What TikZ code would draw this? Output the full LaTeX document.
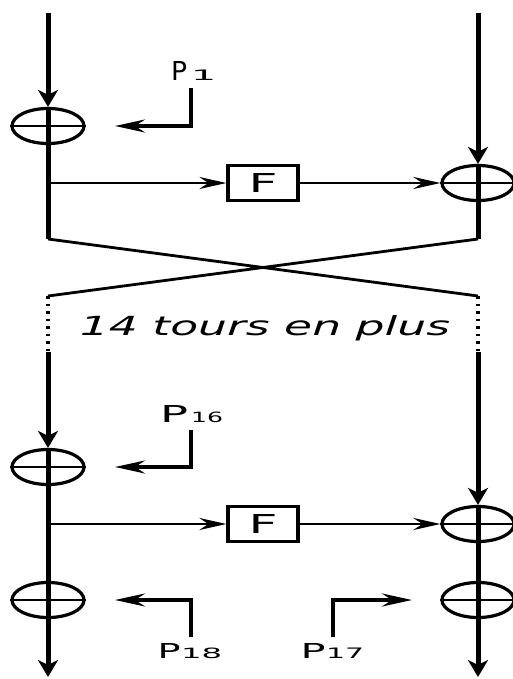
\documentclass[tikz,border=0pt]{standalone}
\usepackage{fontspec}
\setmainfont{DejaVu Sans}
\usepackage{graphicx}
\usetikzlibrary{arrows.meta,shapes.geometric}
\newcommand{\keylab}[5]{\resizebox{#1pt}{#2pt}{P}\hspace{#3pt}\resizebox{#4pt}{10.5pt}{#5}}

\begin{document}
\begin{tikzpicture}[x=1pt,y=-1pt,
  rail/.style={line width=5pt},
  down/.style={rail,-{Stealth[length=17pt,width=20pt,inset=5pt]}},
  xor/.style={draw,ellipse,line width=3.2pt,minimum width=72pt,minimum height=35pt,inner sep=0pt},
  bar/.style={line width=2.6pt},
  fbox/.style={draw,line width=3.2pt,minimum width=70pt,minimum height=35pt,inner sep=0pt},
  feed/.style={line width=2.5pt,-{Stealth[length=27pt,width=12pt,inset=9pt]}},
  cross/.style={line width=2.8pt},
  gap/.style={line width=3.8pt,dash pattern=on 2.7pt off 4.8pt},
  key/.style={line width=3.5pt,-{Stealth[length=30pt,width=13pt,inset=10pt]}},
  keylabel/.style={anchor=base west,inner sep=0pt}
]
  \useasboundingbox (0,0) rectangle (513,679);

  \coordinate (t1) at (48,13);
  \coordinate (t2) at (478,13);
  \node[xor] (x1) at (48,126) {};
  \node[xor] (x2) at (478,183) {};
  \node[fbox] (f1) at (263,183) {\resizebox{29pt}{19pt}{F}};
  \coordinate (s1) at (48,183);
  \coordinate (c1) at (48,239);
  \coordinate (c2) at (478,239);
  \coordinate (d1) at (48,296);
  \coordinate (d2) at (478,296);
  \coordinate (e1) at (48,352);
  \coordinate (e2) at (478,352);

  \node[xor] (x3) at (48,467) {};
  \node[xor] (x4) at (478,524) {};
  \node[fbox] (f2) at (263,524) {\resizebox{29pt}{19pt}{F}};
  \coordinate (s2) at (48,524);
  \node[xor] (x5) at (48,600) {};
  \node[xor] (x6) at (478,600) {};
  \coordinate (b1) at (48,677);
  \coordinate (b2) at (478,677);

  \draw[down] (t1) -- (x1);
  \draw[rail] (x1.north) -- (c1);
  \draw[down] (t2) -- (x2);
  \draw[rail] (x2.north) -- (c2);
  \draw[feed] (s1) -- (f1);
  \draw[feed] (f1) -- (x2);
  \draw[cross] (c1) -- (d2) (c2) -- (d1);
  \draw[gap] (d1) -- (e1) (d2) -- (e2);

  \node[anchor=base,inner sep=0pt] (more) at (265,335)
    {\resizebox{370pt}{20pt}{\itshape 14 tours en plus}};

  \draw[down] (e1) -- (x3);
  \draw[rail] (x3.north) -- (x5.north);
  \draw[down] (x5.north) -- (b1);
  \draw[down] (e2) -- (x4);
  \draw[rail] (x4.north) -- (x6.north);
  \draw[down] (x6.north) -- (b2);
  \draw[feed] (s2) -- (f2);
  \draw[feed] (f2) -- (x4);

  \foreach \x in {x1,x2,x3,x4,x5,x6}
    \draw[bar] (\x.west) -- (\x.east);

  \node[keylabel] (p1) at (171,81) {\keylab{16}{19}{4}{25}{1}};
  \node[keylabel] (p16) at (160,422) {\keylab{28}{17}{3}{32}{16}};
  \node[keylabel] (p18) at (157.5,658) {\keylab{23}{15}{0.5}{41}{18}};
  \node[keylabel] (p17) at (300.5,658) {\keylab{25}{15}{0.5}{38}{17}};

  \coordinate (k1) at (191,88);
  \coordinate (h1) at (115,126);
  \coordinate (k16) at (191,430);
  \coordinate (h16) at (115,467);
  \coordinate (k18) at (191,637);
  \coordinate (h18) at (115,600);
  \coordinate (k17) at (333,637);
  \coordinate (h17) at (412,600);
  \draw[key] (k1) |- (h1);
  \draw[key] (k16) |- (h16);
  \draw[key] (k18) |- (h18);
  \draw[key] (k17) |- (h17);
\end{tikzpicture}
\end{document}
